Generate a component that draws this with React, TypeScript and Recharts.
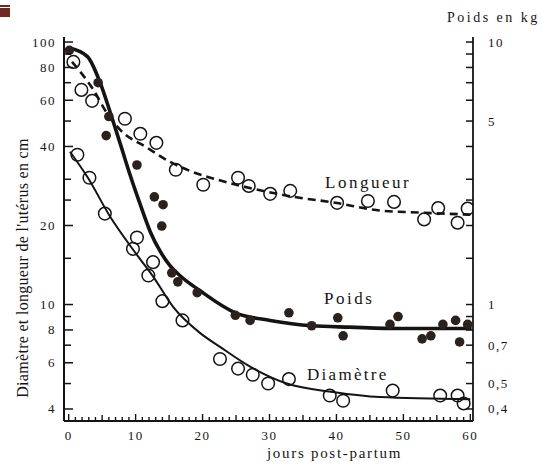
import { ComposedChart, Line, Scatter, XAxis, YAxis } from "recharts";

const FONT = "'Liberation Serif', 'Times New Roman', serif";
const INK = "#161413";

type Pt = [number, number];

// axes
const dayTicks = Array.from({ length: 61 }, (_, i) => i);
const dayLabels = [0, 10, 20, 30, 40, 50, 60];
const cmTicks = [4, 5, 6, 7, 8, 9, 10, 15, 20, 25, 30, 40, 50, 60, 70, 80, 90, 100];
const cmLabels = [4, 6, 8, 10, 20, 40, 60, 80, 100];
const kgTicks = [0.4, 0.5, 0.6, 0.7, 0.8, 0.9, 1, 1.5, 2, 2.5, 3, 4, 5, 6, 7, 8, 9, 10];
const kgLabels = [0.4, 0.5, 0.7, 1, 5, 10];

// Longueur (cm) - measured points and fitted curve
const longueurPoints: Pt[] = [
  [0.7, 84], [1.9, 65.7], [3.5, 59.7], [8.4, 51], [10.7, 44.7], [13.1, 41.3],
  [16, 32.6], [20.1, 28.6], [25.3, 30.4], [26.9, 28.3], [30.1, 26.4], [33.1, 27.1],
  [40.1, 24.4], [44.7, 24.8], [48.6, 24.6], [53.1, 21.1], [55.2, 23.3], [58.1, 20.5],
  [59.6, 23.2],
];
const longueurCurve: Pt[] = [
  [0.5, 84], [3.7, 65.7], [5.7, 53.7], [7.7, 46.3], [11.7, 39.6], [15.1, 35],
  [18.5, 32], [22.2, 29.9], [29.6, 26.9], [34.5, 25.5], [39.5, 24.5], [46.5, 22.8],
  [52.5, 22.4], [60, 22],
];

// Poids (kg)
const poidsPoints: Pt[] = [
  [0.1, 9.3], [4.4, 7.0], [6.0, 5.2], [5.6, 4.4], [10.2, 3.4], [12.8, 2.57],
  [14.1, 2.4], [13.9, 1.99], [15.4, 1.32], [16.3, 1.22], [19.2, 1.11], [24.9, 0.91],
  [27.1, 0.87], [32.9, 0.93], [36.3, 0.83], [40.2, 0.89], [41, 0.76], [48, 0.84],
  [49.2, 0.9], [52.8, 0.74], [54.1, 0.76], [55.9, 0.84], [57.8, 0.87], [58.4, 0.72],
  [59.6, 0.84],
];
const poidsCurve: Pt[] = [
  [0, 9.5], [2.8, 8.8], [4.7, 7.0], [6.2, 5.4], [7.7, 4.1], [9.2, 3.1], [10.7, 2.4],
  [12.2, 1.89], [13.7, 1.59], [15.1, 1.41], [16.6, 1.29], [19.6, 1.13], [24.9, 0.93],
  [30.1, 0.87], [36.3, 0.83], [42, 0.82], [49.5, 0.81], [60.2, 0.81],
];

// Diamètre (cm)
const diametrePoints: Pt[] = [
  [1.3, 37.2], [3.1, 30.4], [5.4, 22.2], [10.2, 18], [9.6, 16.3], [12.6, 14.5],
  [11.9, 12.9], [14, 10.3], [17, 8.7], [22.6, 6.2], [25.3, 5.7], [27.5, 5.4],
  [29.8, 5.0], [32.9, 5.2], [39, 4.5], [41, 4.3], [48.4, 4.7], [55.5, 4.5],
  [58.1, 4.5], [59, 4.2],
];
const diametreCurve: Pt[] = [
  [0.2, 38.2], [2.8, 30.6], [6.2, 21.6], [9.6, 16.2], [12.6, 12.8], [15.6, 9.8],
  [19.6, 7.8], [22.6, 6.9], [27.1, 5.8], [32.6, 5.0], [39.5, 4.64], [46.5, 4.44],
  [60, 4.36],
];

const toRows = (pts: Pt[]) => pts.map(([day, v]) => ({ day, v }));

const textProps = { fontFamily: FONT, fill: INK };

function BottomTick(props: any) {
  const { x, y, payload } = props;
  const v = payload.value;
  const len = v % 10 === 0 ? 7 : v % 5 === 0 ? 6 : 4;
  return (
    <g>
      <line x1={x} x2={x} y1={y} y2={y - len} stroke={INK} strokeWidth={1.4} />
      {dayLabels.includes(v) && (
        <text x={x} y={y + 19} textAnchor="middle" fontSize={13} letterSpacing={1.5} {...textProps}>
          {v}
        </text>
      )}
    </g>
  );
}

function LeftTick(props: any) {
  const { x, y, payload } = props;
  const major = cmLabels.includes(payload.value);
  return (
    <g>
      <line x1={x} x2={x + (major ? 9 : 7)} y1={y} y2={y} stroke={INK} strokeWidth={1.5} />
      {major && (
        <text x={x - 8} y={y + 4.5} textAnchor="end" fontSize={13} letterSpacing={1.5} {...textProps}>
          {payload.value}
        </text>
      )}
    </g>
  );
}

function RightTick(props: any) {
  const { x, y, payload } = props;
  const major = kgLabels.includes(payload.value);
  return (
    <g>
      <line x1={x} x2={x - 7} y1={y} y2={y} stroke={INK} strokeWidth={1.5} />
      {major && (
        <text x={x + 15} y={y + 4.5} textAnchor="start" fontSize={13} letterSpacing={1.5} {...textProps}>
          {String(payload.value).replace(".", ",")}
        </text>
      )}
    </g>
  );
}

const OpenCircle = (p: any) => (
  <circle cx={p.cx} cy={p.cy} r={6.3} fill="none" stroke={INK} strokeWidth={1.5} />
);
const FilledDot = (p: any) => <circle cx={p.cx} cy={p.cy} r={4.8} fill="#2b2220" />;

export default function App() {
  return (
    <div style={{ position: "absolute", left: 0, top: 0, width: 542, height: 464, background: "#fff" }}>
      <div style={{ position: "absolute", left: 0, top: 5, width: 10, height: 1.5, background: "#6e2a22" }} />
      <div style={{ position: "absolute", left: 0, top: 8, width: 10, height: 9, background: "#6e2a22" }} />
      <ComposedChart width={542} height={464} margin={{ top: 37, right: 0, bottom: 0, left: 0 }}>
        <XAxis
          dataKey="day"
          type="number"
          domain={[-0.7, 60.4]}
          allowDataOverflow
          ticks={dayTicks}
          interval={0}
          height={43}
          tickLine={false}
          tickSize={0}
          tickMargin={0}
          tick={BottomTick}
          axisLine={{ stroke: INK, strokeWidth: 2 }}
        />
        <YAxis
          yAxisId="cm"
          dataKey="v"
          type="number"
          scale="log"
          domain={[3.6, 104.5]}
          allowDataOverflow
          ticks={cmTicks}
          interval={0}
          width={64}
          tickLine={false}
          tickSize={0}
          tickMargin={0}
          tick={LeftTick}
          axisLine={{ stroke: INK, strokeWidth: 2 }}
        />
        <YAxis
          yAxisId="kg"
          dataKey="v"
          orientation="right"
          type="number"
          scale="log"
          domain={[0.36, 10.45]}
          allowDataOverflow
          ticks={kgTicks}
          interval={0}
          width={69}
          tickLine={false}
          tickSize={0}
          tickMargin={0}
          tick={RightTick}
          axisLine={{ stroke: INK, strokeWidth: 1.8 }}
        />
        <Line
          data={toRows(longueurCurve)}
          dataKey="v"
          yAxisId="cm"
          type="monotone"
          stroke={INK}
          strokeWidth={2.6}
          strokeDasharray="8 5"
          dot={false}
          activeDot={false}
          isAnimationActive={false}
        />
        <Line
          data={toRows(diametreCurve)}
          dataKey="v"
          yAxisId="cm"
          type="monotone"
          stroke={INK}
          strokeWidth={2}
          dot={false}
          activeDot={false}
          isAnimationActive={false}
        />
        <Line
          data={toRows(poidsCurve)}
          dataKey="v"
          yAxisId="kg"
          type="monotone"
          stroke={INK}
          strokeWidth={3.6}
          dot={false}
          activeDot={false}
          isAnimationActive={false}
        />
        <Scatter data={toRows(longueurPoints)} dataKey="v" yAxisId="cm" shape={OpenCircle} isAnimationActive={false} />
        <Scatter data={toRows(diametrePoints)} dataKey="v" yAxisId="cm" shape={OpenCircle} isAnimationActive={false} />
        <Scatter data={toRows(poidsPoints)} dataKey="v" yAxisId="kg" shape={FilledDot} isAnimationActive={false} />
      </ComposedChart>
      <svg width={542} height={464} style={{ position: "absolute", left: 0, top: 0, pointerEvents: "none" }}>
        <text x={447} y={22} fontSize={14} letterSpacing={2.5} {...textProps}>Poids en kg</text>
        <text x={325} y={188} fontSize={17} letterSpacing={2.5} {...textProps}>Longueur</text>
        <text x={324} y={304} fontSize={17} letterSpacing={2.5} {...textProps}>Poids</text>
        <text x={307} y={380} fontSize={17} letterSpacing={2.3} {...textProps}>Diamètre</text>
        <text x={267} y={458} fontSize={15} letterSpacing={1.7} {...textProps}>jours post-partum</text>
        <text
          transform="translate(28 268) rotate(-90)"
          textAnchor="middle"
          fontSize={16}
          letterSpacing={0.3}
          {...textProps}
        >
          Diamètre et longueur de l'utérus en cm
        </text>
      </svg>
    </div>
  );
}
